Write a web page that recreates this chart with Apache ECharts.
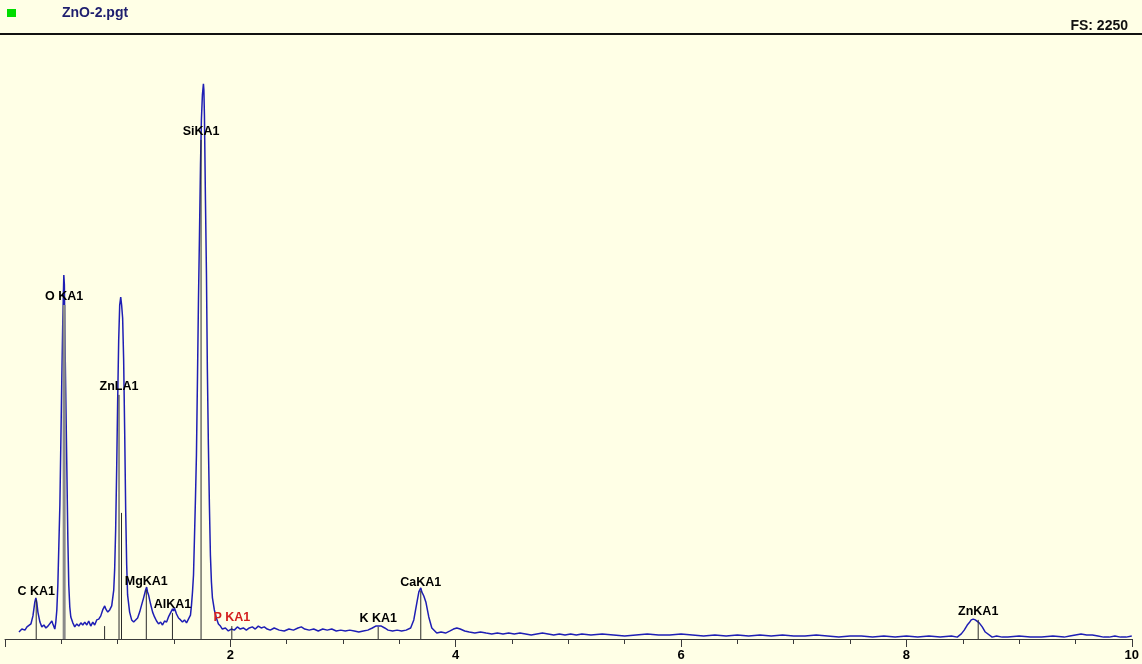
<!DOCTYPE html>
<html>
<head>
<meta charset="utf-8">
<script src="https://cdn.jsdelivr.net/npm/echarts@6/dist/echarts.min.js"></script>
<style>
html,body{margin:0;padding:0;background:#FFFFE6;}
#chart{width:1142px;height:664px;}
</style>
</head>
<body>
<div id="chart"></div>
<script>
// ---- data (energy in keV, counts) ----
const fileName = 'ZnO-2.pgt';
const fullScaleText = 'FS: 2250';
const yMax = 2250;
const xMin = 0, xMax = 10;

const spectrumKeV = [
0.124,0.150,0.177,0.195,0.212,0.230,0.248,0.265,0.274,0.283,0.292,0.310,0.327,0.345,0.363,0.381,0.398,0.416,0.425,0.442,
0.451,0.460,0.469,0.478,0.487,0.496,0.504,0.513,0.522,0.527,0.531,0.540,0.549,0.558,0.566,0.575,0.584,0.602,0.619,0.637,
0.655,0.673,0.690,0.708,0.726,0.743,0.761,0.779,0.796,0.814,0.832,0.850,0.867,0.885,0.894,0.912,0.929,0.947,0.965,0.973,
0.982,0.991,1.000,1.009,1.018,1.027,1.035,1.044,1.053,1.062,1.071,1.080,1.088,1.106,1.124,1.142,1.159,1.177,1.195,1.212,
1.230,1.248,1.257,1.265,1.274,1.292,1.310,1.327,1.345,1.363,1.381,1.398,1.416,1.434,1.451,1.469,1.487,1.496,1.504,1.522,
1.540,1.558,1.575,1.593,1.611,1.628,1.646,1.655,1.664,1.673,1.681,1.690,1.699,1.708,1.717,1.726,1.735,1.743,1.752,1.761,
1.765,1.770,1.779,1.788,1.796,1.805,1.814,1.823,1.832,1.841,1.858,1.876,1.894,1.912,1.929,1.956,1.982,2.009,2.035,2.062,
2.088,2.115,2.142,2.168,2.195,2.221,2.248,2.274,2.301,2.327,2.354,2.389,2.434,2.478,2.52,2.56,2.60,2.63,2.66,2.70,
2.74,2.78,2.82,2.86,2.90,2.94,2.98,3.02,3.06,3.10,3.14,3.18,3.22,3.26,3.29,3.31,3.34,3.37,3.40,3.44,
3.48,3.52,3.56,3.60,3.628,3.655,3.673,3.690,3.699,3.717,3.735,3.761,3.788,3.832,3.87,3.91,3.95,3.98,4.01,4.04,
4.08,4.12,4.17,4.22,4.27,4.32,4.37,4.42,4.47,4.52,4.57,4.62,4.67,4.72,4.77,4.82,4.87,4.92,4.97,5.02,
5.07,5.12,5.2,5.3,5.4,5.5,5.6,5.7,5.8,5.9,6.0,6.1,6.2,6.3,6.4,6.5,6.6,6.7,6.8,6.9,
7.0,7.1,7.2,7.3,7.4,7.5,7.6,7.7,7.8,7.9,8.0,8.1,8.2,8.3,8.4,8.451,8.487,8.513,8.54,8.557,
8.575,8.593,8.611,8.628,8.646,8.673,8.70,8.717,8.761,8.8,8.85,8.9,9.0,9.1,9.2,9.3,9.4,9.45,9.5,9.55,
9.6,9.65,9.7,9.75,9.8,9.85,9.9,9.95,10.0
];
const spectrumCounts = [
26,37,33,45,41,56,86,138,153,134,100,63,45,52,41,48,41,67,56,37,
63,108,201,350,498,740,963,1187,1354,1317,1149,889,629,368,201,119,82,60,45,56,
48,60,52,63,52,67,48,63,52,71,74,86,108,123,112,100,108,123,182,257,
405,629,889,1112,1242,1272,1242,1194,1038,777,480,275,164,100,71,63,67,78,100,126,
153,182,193,175,164,130,100,82,67,56,63,52,67,63,82,97,112,104,115,93,
78,71,63,71,60,67,89,126,175,238,368,517,684,963,1261,1503,1763,1931,2024,2065,
2042,1946,1633,1354,1001,722,498,312,212,153,108,78,56,48,37,41,30,37,33,45,
37,41,33,41,45,37,48,41,45,37,33,41,33,30,37,33,41,45,37,33,
37,30,37,33,37,30,33,30,33,30,26,30,33,41,48,48,48,41,33,30,
33,30,33,41,71,134,175,190,175,160,138,82,41,22,26,22,30,37,41,37,
30,26,22,26,22,19,22,19,22,19,22,19,15,19,22,19,15,19,15,19,
15,19,15,19,15,11,15,19,15,15,19,15,11,15,11,15,11,15,11,15,
11,11,15,11,7,11,11,7,11,7,11,7,11,7,11,7,19,33,52,60,
71,74,71,67,60,45,26,22,7,11,7,7,11,7,7,11,7,11,15,19,
15,15,11,7,7,11,7,7,11
];

// element line markers
const markerKeV    = [0.277, 0.525, 0.884, 1.012, 1.034, 1.254, 1.486, 1.740, 2.013, 3.312, 3.690, 8.637];
const markerCounts = [145,   1242,  48,    908,   469,   182,   97,    1856,  48,    45,    179,   71];
const markerLabels = ['C KA1','O KA1','','ZnLA1','','MgKA1','AlKA1','SiKA1','P KA1','K KA1','CaKA1','ZnKA1'];

// ---- styling ----
const highlightedLine = 'O KA1';   // drawn as thick grey bar
const redLabel = 'P KA1';

const spectrum = spectrumKeV.map((e, i) => [e, spectrumCounts[i]]);
const markers = markerKeV.map((e, i) => [e, markerCounts[i], i]);

const chart = echarts.init(document.getElementById('chart'), null, {renderer: 'canvas'});
const FONT = '"Liberation Sans", Arial, sans-serif';

chart.setOption({
  backgroundColor: '#FFFFE6',
  animation: false,
  grid: {left: 5, right: 7, top: 34, bottom: 25, containLabel: false},
  xAxis: {
    type: 'value',
    min: xMin, max: xMax, interval: 2,
    splitLine: {show: false},
    axisLine: {show: true, lineStyle: {color: '#3a3a3a', width: 1}},
    axisTick: {show: true, length: 8, lineStyle: {color: '#3a3a3a', width: 1}},
    minorTick: {show: true, splitNumber: 4, length: 5, lineStyle: {color: '#3a3a3a', width: 1}},
    minorSplitLine: {show: false},
    axisLabel: {
      show: true, margin: 10, color: '#000', fontWeight: 'bold', fontSize: 13, fontFamily: FONT,
      formatter: v => (v === 0 ? '' : String(v))
    }
  },
  yAxis: {
    type: 'value', min: 0, max: yMax, show: false, splitLine: {show: false}
  },
  series: [
    {
      type: 'line',
      data: spectrum,
      showSymbol: false,
      symbol: 'none',
      lineStyle: {color: '#1e1eb4', width: 1.5},
      z: 2
    },
    {
      type: 'custom',
      data: markers,
      z: 3,
      renderItem: function (params, api) {
        const e = api.value(0), c = api.value(1);
        const label = markerLabels[api.value(2)];
        const p0 = api.coord([e, 0]);
        const p1 = api.coord([e, c]);
        const thick = label === highlightedLine;
        const children = [{
          type: 'line',
          shape: {x1: p0[0], y1: p0[1], x2: p1[0], y2: p1[1]},
          style: {stroke: thick ? '#8a8a8a' : '#2a2a2a', lineWidth: thick ? 3 : 1}
        }];
        if (label) {
          children.push({
            type: 'text',
            style: {
              text: label, x: p1[0], y: p1[1] - 2,
              align: 'center', verticalAlign: 'bottom',
              font: 'bold 12.5px ' + FONT,
              fill: label === redLabel ? '#d42020' : '#000'
            }
          });
        }
        return {type: 'group', children: children};
      }
    }
  ],
  graphic: [
    {type: 'rect', shape: {x: 7, y: 9, width: 9, height: 8}, style: {fill: '#00dd00'}},
    {type: 'text', style: {text: fileName, x: 62, y: 13, verticalAlign: 'middle', font: 'bold 14px ' + FONT, fill: '#1e1e6e'}},
    {type: 'text', style: {text: fullScaleText, x: 1128, y: 26, align: 'right', verticalAlign: 'middle', font: 'bold 14px ' + FONT, fill: '#111'}},
    {type: 'line', shape: {x1: 0, y1: 34, x2: 1142, y2: 34}, style: {stroke: '#111', lineWidth: 2}}
  ]
});
</script>
</body>
</html>
